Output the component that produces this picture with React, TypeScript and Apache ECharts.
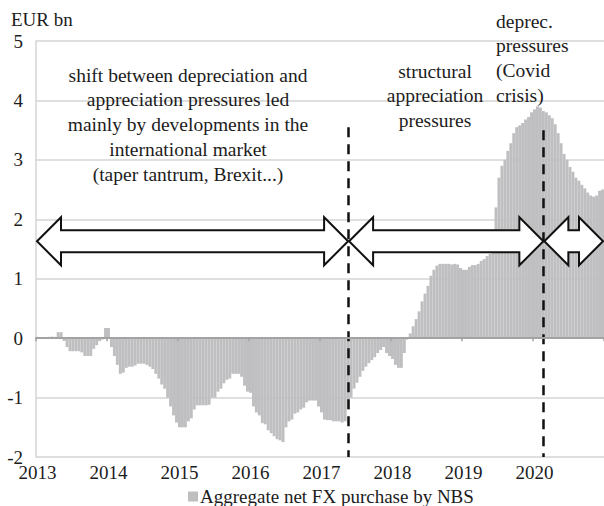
import React, { useEffect, useRef } from "react";
import * as echarts from "echarts";

// Semi-monthly observations, Jan 2013 - Dec 2020 (EUR bn)
const years = ["2013", "2014", "2015", "2016", "2017", "2018", "2019", "2020"];
const v2013 = [0.02, 0.01, 0, 0, 0.02, 0.03, 0.02, 0.1, 0.1, -0.05, -0.15, -0.22, -0.22, -0.22, -0.22, -0.24, -0.3, -0.3, -0.3, -0.18, -0.12, -0.05, -0.02, 0.17];
const v2014 = [0.17, -0.15, -0.3, -0.45, -0.6, -0.58, -0.5, -0.48, -0.48, -0.46, -0.43, -0.43, -0.43, -0.45, -0.48, -0.52, -0.6, -0.68, -0.78, -0.85, -1.0, -1.15, -1.3, -1.42];
const v2015 = [-1.5, -1.5, -1.5, -1.4, -1.35, -1.2, -1.13, -1.13, -1.13, -1.13, -1.12, -1.0, -1.0, -0.9, -0.85, -0.76, -0.7, -0.68, -0.6, -0.6, -0.6, -0.65, -0.8, -0.9];
const v2016 = [-0.92, -1.15, -1.25, -1.3, -1.43, -1.45, -1.55, -1.6, -1.65, -1.7, -1.72, -1.75, -1.5, -1.4, -1.37, -1.27, -1.25, -1.2, -1.17, -1.08, -1.05, -1.05, -1.05, -1.15];
const v2017 = [-1.25, -1.37, -1.38, -1.38, -1.4, -1.4, -1.4, -1.42, -1.4, -1.2, -1.0, -0.85, -0.75, -0.65, -0.55, -0.48, -0.42, -0.37, -0.32, -0.25, -0.2, -0.15, -0.25, -0.3];
const v2018 = [-0.35, -0.45, -0.5, -0.5, -0.25, -0.02, 0.08, 0.2, 0.32, 0.45, 0.62, 0.75, 0.88, 1.05, 1.15, 1.22, 1.25, 1.25, 1.25, 1.25, 1.24, 1.25, 1.24, 1.18];
const v2019 = [1.15, 1.15, 1.2, 1.23, 1.23, 1.25, 1.3, 1.33, 1.38, 1.42, 1.45, 2.2, 2.7, 2.9, 3.0, 3.15, 3.28, 3.45, 3.55, 3.58, 3.62, 3.68, 3.72, 3.8];
const v2020 = [3.85, 3.9, 3.88, 3.82, 3.8, 3.75, 3.7, 3.6, 3.45, 3.28, 3.1, 3.0, 2.88, 2.8, 2.7, 2.65, 2.58, 2.52, 2.45, 2.4, 2.38, 2.4, 2.48, 2.5];
const values = [...v2013, ...v2014, ...v2015, ...v2016, ...v2017, ...v2018, ...v2019, ...v2020];

const categories = years.flatMap((y) =>
  Array.from({ length: 24 }, (_, k) => `${y}-${String(Math.floor(k / 2) + 1).padStart(2, "0")}${k % 2 ? "b" : "a"}`)
);

const seriesName = "Aggregate net FX purchase by NBS";
const yTicks = { min: -2, max: 5, interval: 1 };

// Regime dividers (category, top value of dashed line)
const dividerCats = ["2017-05b", "2020-02b"];
const dividerTops = [3.55, 3.5];
const arrowLevel = 1.63;

const leftText = ["shift between depreciation and", "appreciation pressures led", "mainly by developments in the", "international market", "(taper tantrum, Brexit...)"];
const midText = ["structural", "appreciation", "pressures"];
const rightText = ["deprec.", "pressures", "(Covid", "crisis)"];
const unitText = "EUR bn";

const FONT = "Liberation Serif";
const INK = "#1c1c1c";
const BAR = "#bfbfc1";

export default function App() {
  const ref = useRef<HTMLDivElement>(null);
  useEffect(() => {
    if (!ref.current) return;
    const chart = echarts.init(ref.current, undefined, { renderer: "svg" });
    const option: any = {
      animation: false,
      backgroundColor: "#ffffff",
      textStyle: { fontFamily: FONT, color: INK },
      grid: { left: 36, right: 0, top: 41, bottom: 49, containLabel: false, outerBoundsMode: "none" },
      legend: {
        data: [seriesName],
        left: 183,
        top: 482,
        icon: "rect",
        itemWidth: 8,
        itemHeight: 8,
        itemGap: 4,
        textStyle: { fontFamily: FONT, fontSize: 19, color: INK, padding: [0, 0, 0, -2] },
      },
      xAxis: [
        {
          type: "category",
          data: categories,
          position: "bottom",
          axisLine: { show: false, onZero: false },
          axisTick: { show: false },
          splitLine: { show: false },
          axisLabel: {
            interval: (i: number) => i % 24 === 0,
            formatter: (v: string) => v.slice(0, 4),
            fontFamily: FONT,
            fontSize: 19,
            color: INK,
            margin: 6,
          },
        },
        {
          type: "category",
          data: categories,
          position: "top",
          z: 10,
          axisLine: { show: true, onZero: true, lineStyle: { color: "#a3a3a3", width: 2 } },
          axisTick: { show: true, inside: true, length: 3, interval: (i: number) => i % 24 === 0, lineStyle: { color: "#a3a3a3", width: 1.5 } },
          axisLabel: { show: false },
          splitLine: { show: false },
        },
      ],
      yAxis: {
        type: "value",
        min: yTicks.min,
        max: yTicks.max,
        interval: yTicks.interval,
        axisLine: { show: true, lineStyle: { color: "#d4d4d4", width: 1.5 } },
        axisTick: { show: false },
        splitLine: { show: true, lineStyle: { color: "#d4d4d4", width: 1.5 } },
        axisLabel: { fontFamily: FONT, fontSize: 19, color: INK, margin: 13 },
      },
      series: [
        {
          name: seriesName,
          type: "bar",
          xAxisIndex: 0,
          data: values,
          barCategoryGap: "0%",
          barGap: "0%",
          itemStyle: { color: BAR, borderColor: BAR, borderWidth: 1.8 },
          emphasis: { disabled: true },
          markLine: {
            silent: true,
            symbol: "none",
            label: { show: false },
            lineStyle: { color: "#111", width: 2.5, type: [10, 7] },
            data: dividerCats.map((c, i) => [
              { xAxis: c, yAxis: dividerTops[i] },
              { xAxis: c, yAxis: yTicks.min },
            ]),
          },
        },
      ],
    };
    chart.setOption(option);

    const cx = (c: string) => chart.convertToPixel({ xAxisIndex: 0 }, c) as number;
    const band = cx(categories[1]) - cx(categories[0]);
    const xStart = cx(categories[0]) - band / 2 + 1;
    const xEnd = cx(categories[categories.length - 1]) + band / 2 - 1;
    const d1 = cx(dividerCats[0]);
    const d2 = cx(dividerCats[1]);
    const yc = chart.convertToPixel({ yAxisIndex: 0 }, arrowLevel) as number;
    const h = 24, H = 24, t = 11;
    const arrow = (xa: number, xb: number) => ({
      type: "polygon",
      z: 100,
      shape: {
        points: [
          [xa, yc], [xa + h, yc - H], [xa + h, yc - t], [xb - h, yc - t], [xb - h, yc - H],
          [xb, yc], [xb - h, yc + H], [xb - h, yc + t], [xa + h, yc + t], [xa + h, yc + H],
        ],
      },
      style: { fill: "#ffffff", stroke: "#111", lineWidth: 2 },
      silent: true,
    });
    const LH = 24.75;
    const txt = (lines: string[], x: number, yFirstCenter: number, align: string, size: number) => ({
      type: "text",
      z: 100,
      x,
      y: yFirstCenter - LH / 2,
      silent: true,
      style: {
        text: lines.join("\n"),
        fontFamily: FONT,
        fontSize: size,
        lineHeight: LH,
        fill: INK,
        align,
        verticalAlign: "top",
      },
    });
    chart.setOption({
      graphic: [
        arrow(xStart, d1),
        arrow(d1 + 1, d2),
        arrow(d2 + 1, xEnd),
        txt(leftText, 188, 75, "center", 19.5),
        txt(midText, 435, 71, "center", 19.5),
        txt(rightText, 496, 21, "left", 19.5),
        txt([unitText], 11, 19, "left", 19),
      ],
    });
    return () => chart.dispose();
  }, []);
  return <div ref={ref} style={{ width: 604, height: 506, position: "absolute", left: 0, top: 0 }} />;
}
